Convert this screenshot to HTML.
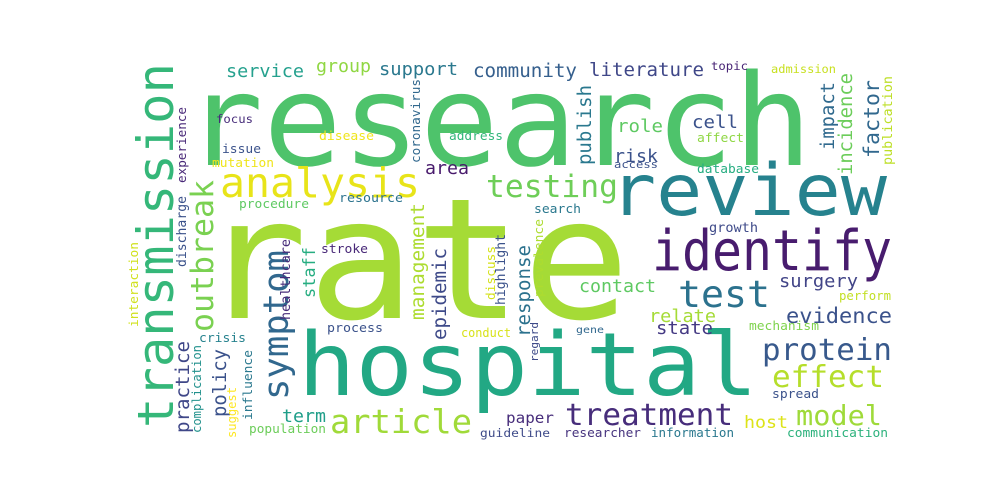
<!DOCTYPE html>
<html><head><meta charset="utf-8"><style>
html,body{margin:0;padding:0;background:#fff;width:1000px;height:500px;overflow:hidden}
svg text{font-family:"DejaVu Sans Mono","Liberation Mono",monospace}
</style></head><body>
<svg id="cloud" width="1000" height="500" viewBox="0 0 1000 500" xmlns="http://www.w3.org/2000/svg"></svg>
<script>
// word, x, baseline y, font size, text length, colour, vertical
const words=[
["research",185,165,127,627,"#4ec36b",0],
["rate",200,318,168,430,"#a5db36",0],
["hospital",298,395,87,460,"#22a884",0],
["transmission",173,428,50,365,"#35b779",1],
["review",610,215,71,277,"#26828e",0],
["identify",652,270,56,240,"#481c6e",0],
["test",678,307,37,92,"#2c728e",0],
["analysis",220,197,41,200,"#e8e419",0],
["testing",486,197,31,132,"#6ece58",0],
["symptom",288,400,35,150,"#31688e",1],
["outbreak",213,332,31,152,"#7ad151",1],
["article",330,433,33,142,"#a0da39",0],
["treatment",565,425,30.6,168,"#472d7b",0],
["protein",762,360,30,130,"#38598c",0],
["effect",772,387,30,112,"#b5de2b",0],
["model",796,425,28,86,"#9fda3a",0],
["evidence",786,323,21,106,"#3b528b",0],
["surgery",779,287,18,79,"#414487",0],
["contact",579,292,18,77,"#5ec962",0],
["relate",649,322,18,67,"#a5db36",0],
["state",656,334,18,57,"#443983",0],
["paper",506,423,15,48,"#472d7b",0],
["host",744,428,17,44,"#dde318",0],
["spread",772,398,12.5,47,"#3b528b",0],
["researcher",564,437,12.5,77,"#46337e",0],
["information",651,437,12.3,83,"#2a788e",0],
["communication",787,437,12,101,"#2db27d",0],
["guideline",480,437,11.5,70,"#3e4a89",0],
["mechanism",749,330,12.6,70,"#7fd34e",0],
["perform",839,300,12,52,"#c2df23",0],
["gene",576,333,10,28,"#31688e",0],
["growth",709,232,13,49,"#3e4a89",0],
["search",534,213,12.5,47,"#2a788e",0],
["database",697,173,12.5,62,"#26ad81",0],
["access",614,168,11,44,"#3b528b",0],
["risk",614,162,17.5,44,"#3b528b",0],
["role",617,132,18,46,"#5ec962",0],
["cell",692,128,18,46,"#3b528b",0],
["affect",697,142,12.5,47,"#8fd744",0],
["literature",589,76,18.6,115,"#3f4788",0],
["community",473,77,18.7,104,"#355f8d",0],
["topic",711,70,11.7,37,"#482475",0],
["admission",771,73,11.7,65,"#c8e020",0],
["support",379,75,18,79,"#2a788e",0],
["group",316,72,17.6,55,"#90d743",0],
["service",226,77,18,78,"#25a18e",0],
["focus",216,123,11.7,37,"#472c7a",0],
["disease",319,140,12.5,55,"#f0e51c",0],
["address",449,140,12.5,54,"#32b67a",0],
["issue",222,153,12,39,"#3b528b",0],
["mutation",212,167,12.5,62,"#efe51c",0],
["area",425,174,17.5,44,"#481a6c",0],
["procedure",239,208,12.6,70,"#5ec962",0],
["resource",339,202,12.8,64,"#2c738e",0],
["stroke",321,253,12.5,47,"#482878",0],
["process",327,332,12.8,56,"#3b528b",0],
["conduct",461,337,12,50,"#d8e219",0],
["crisis",199,342,12.5,47,"#26828e",0],
["population",249,433,12.5,77,"#6ccd5a",0],
["term",282,422,17.5,44,"#1f9e89",0],
["coronavirus",420,163,12.6,84,"#31688e",1],
["experience",186,183,12.5,76,"#482878",1],
["discharge",186,267,13,71,"#3b528b",1],
["interaction",138,327,12.7,85,"#d0e11c",1],
["healthcare",290,320,13.3,81,"#472c7a",1],
["staff",315,298,16.6,51,"#26ad81",1],
["management",424,320,19,117,"#addc30",1],
["epidemic",446,340,18.7,92,"#3e4a89",1],
["policy",226,417,18.6,68,"#3b528b",1],
["practice",189,433,18.7,92,"#3f4788",1],
["complication",201,433,12,88,"#21918c",1],
["influence",252,420,12.6,70,"#2a788e",1],
["suggest",236,438,12,51,"#fde725",1],
["discuss",495,300,12.6,54,"#d5e21a",1],
["highlight",505,305,13,71,"#3b528b",1],
["publish",591,165,18.5,80,"#2a788e",1],
["response",530,337,18.7,92,"#2c728e",1],
["prevalence",543,297,12.8,78,"#addc30",1],
["regard",538,362,10.8,40,"#3e4a89",1],
["impact",834,150,18.5,68,"#306a8e",1],
["incidence",852,175,18.5,102,"#6ccd5a",1],
["factor",879,158,21,78,"#31688e",1],
["publication",892,165,13,89,"#bddf26",1]
];
const svg=document.getElementById('cloud');
words.forEach(w=>{
  const t=document.createElementNS('http://www.w3.org/2000/svg','text');
  
  
  t.setAttribute('x',0);t.setAttribute('y',0);
  t.setAttribute('transform','translate('+w[1]+','+w[2]+')'+(w[6]?' rotate(-90)':''));
  t.setAttribute('font-size',w[3]);
  t.setAttribute('fill',w[5]);
  t.setAttribute('textLength',w[4]);
  t.setAttribute('lengthAdjust','spacingAndGlyphs');
  t.textContent=w[0];
  svg.appendChild(t);
});
</script>
</body></html>
